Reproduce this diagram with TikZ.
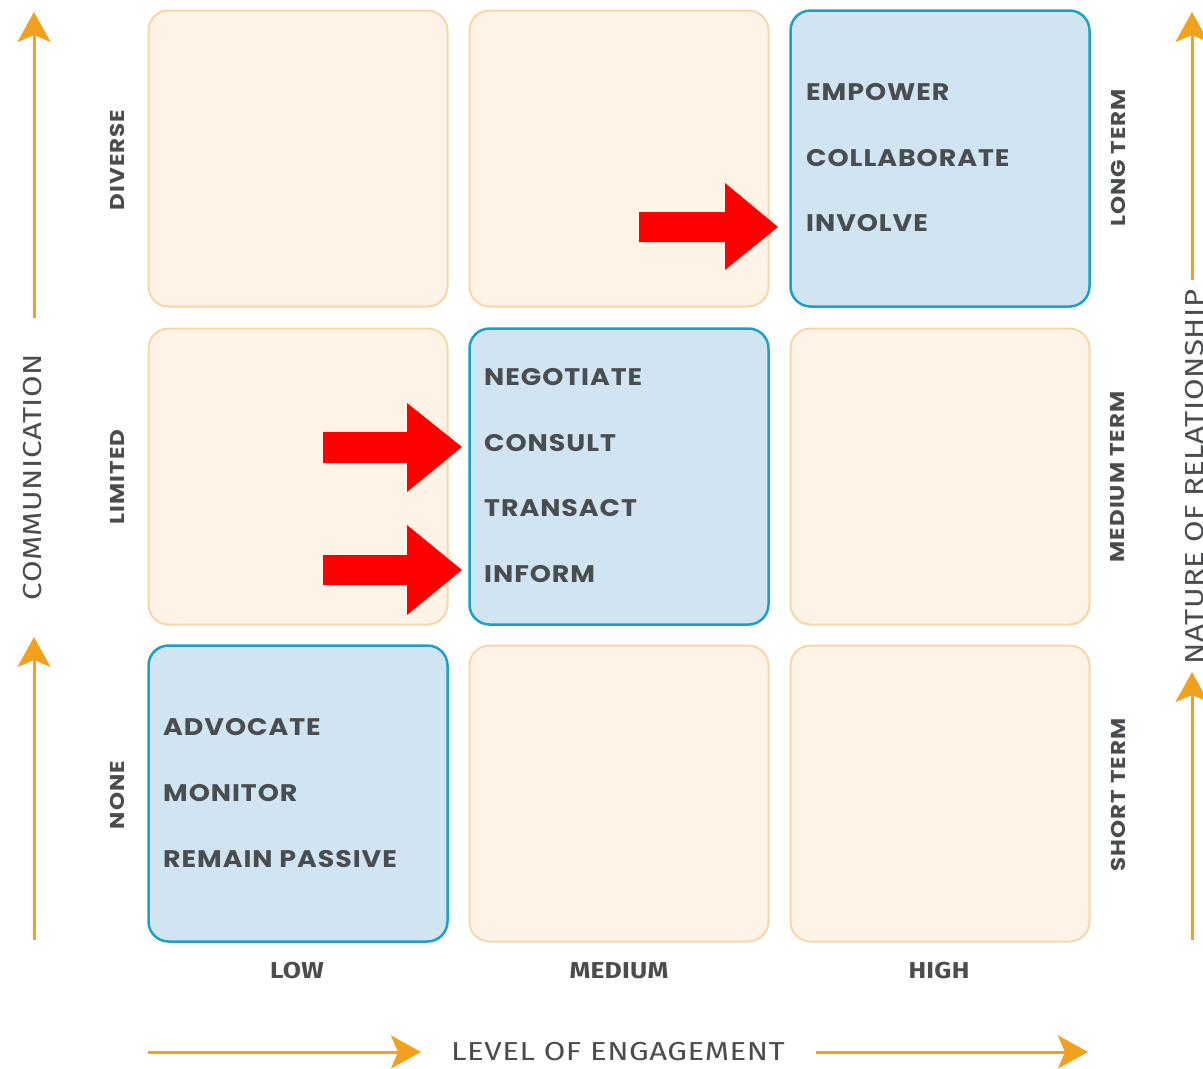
\documentclass[tikz,border=0pt]{standalone}
\usepackage{fontspec}
\setmainfont{Poppins}
\newfontfamily\itemfont{Poppins}[FakeStretch=1.12,LetterSpace=4]
\newfontfamily\rowfont{Poppins}[FakeStretch=1.15,LetterSpace=5]
\newfontfamily\labfont{Fira Sans}[FakeStretch=1.15,LetterSpace=1]
\newfontfamily\axfont{Fira Sans}[FakeStretch=1.2,LetterSpace=2]
\usetikzlibrary{arrows.meta}
\definecolor{ofill}{HTML}{FEF3E6}
\definecolor{oline}{HTML}{F7D6A8}
\definecolor{bfill}{HTML}{D0E4F2}
\definecolor{bline}{HTML}{1CA0C6}
\definecolor{txt}{HTML}{4A4D50}
\definecolor{axor}{HTML}{F2A11F}
\definecolor{redar}{HTML}{FF0000}
\begin{document}
\begin{tikzpicture}[x=1pt,y=-1pt,
  cell/.style={rectangle, rounded corners=20pt, minimum width=299pt, minimum height=296pt, inner sep=0pt, line width=2pt},
  obox/.style={cell, fill=ofill, draw=oline},
  bbox/.style={cell, fill=bfill, draw=bline, line width=2.5pt},
  item/.style={anchor=west, inner sep=0pt, text=txt, font=\itemfont\fontsize{24}{28}\selectfont\bfseries},
  rowlab/.style={inner sep=0pt, text=txt, rotate=90, font=\rowfont\fontsize{20}{24}\selectfont\bfseries},
  collab/.style={inner sep=0pt, text=txt, font=\labfont\fontsize{23}{27}\selectfont\bfseries},
  axislab/.style={inner sep=0pt, text=txt, font=\axfont\fontsize{26}{30}\selectfont},
  axisarrow/.style={draw=axor, line width=3pt, -{Stealth[length=30pt,width=33pt,inset=7pt]}},
  redarrow/.style={fill=redar}
]
\useasboundingbox (0,0) rectangle (1203,1069);
\fill[white] (0,0) rectangle (1203,1069);

% grid of cells
\node[obox] (c11) at (298,158.5) {};
\node[obox] (c12) at (619,158.5) {};
\node[bbox] (c13) at (940,158.5) {};
\node[obox] (c21) at (298,476.5) {};
\node[bbox] (c22) at (619,476.5) {};
\node[obox] (c23) at (940,476.5) {};
\node[bbox] (c31) at (298,793.5) {};
\node[obox] (c32) at (619,793.5) {};
\node[obox] (c33) at (940,793.5) {};

% items
\node[item] (empower) at (806,92) {EMPOWER};
\node[item] (collab) at (806,158) {COLLABORATE};
\node[item] (involve) at (806,223) {INVOLVE};
\node[item] (negot) at (484,377) {NEGOTIATE};
\node[item] (consult) at (484,443) {CONSULT};
\node[item] (transact) at (484,508) {TRANSACT};
\node[item] (inform) at (484,574) {INFORM};
\node[item] (advocate) at (163,727) {ADVOCATE};
\node[item] (monitor) at (163,793) {MONITOR};
\node[item] (passive) at (163,859) {REMAIN PASSIVE};

% red arrows
\fill[redarrow] (639,212) -- (725,212) -- (725,183) -- (778,227) -- (725,270) -- (725,242) -- (639,242) -- cycle;
\fill[redarrow] (323,432) -- (407,432) -- (407,403) -- (462,447) -- (407,492) -- (407,463) -- (323,463) -- cycle;
\fill[redarrow] (323,555) -- (407,555) -- (407,525) -- (462,570) -- (407,615) -- (407,585) -- (323,585) -- cycle;

% row labels
\node[rowlab] (diverse) at (117,160) {DIVERSE};
\node[rowlab] (limited) at (117,477) {LIMITED};
\node[rowlab] (none) at (117,795) {NONE};
\node[rowlab] (longt) at (1118,158) {LONG TERM};
\node[rowlab] (medt) at (1118,477) {MEDIUM TERM};
\node[rowlab] (shortt) at (1118,795) {SHORT TERM};

% column labels
\node[collab] (low) at (297,971) {LOW};
\node[collab] (med) at (619,971) {MEDIUM};
\node[collab] (high) at (939,971) {HIGH};

% axis labels
\node[axislab, rotate=90] (comm) at (33,477) {COMMUNICATION};
\node[axislab, rotate=90] (nature) at (1195,477) {NATURE OF RELATIONSHIP};
\node[axislab] (engage) at (618,1052) {LEVEL OF ENGAGEMENT};

% axis arrows
\coordinate (l1s) at (34,318); \coordinate (l1e) at (34,12);
\coordinate (l2s) at (34,940); \coordinate (l2e) at (34,637);
\coordinate (r1s) at (1192,280); \coordinate (r1e) at (1192,12);
\coordinate (r2s) at (1192,940); \coordinate (r2e) at (1192,672);
\coordinate (b1s) at (148,1052); \coordinate (b1e) at (421,1052);
\coordinate (b2s) at (816,1052); \coordinate (b2e) at (1088,1052);
\draw[axisarrow] (l1s) -- (l1e);
\draw[axisarrow] (l2s) -- (l2e);
\draw[axisarrow] (r1s) -- (r1e);
\draw[axisarrow] (r2s) -- (r2e);
\draw[axisarrow] (b1s) -- (b1e);
\draw[axisarrow] (b2s) -- (b2e);
\end{tikzpicture}
\end{document}
